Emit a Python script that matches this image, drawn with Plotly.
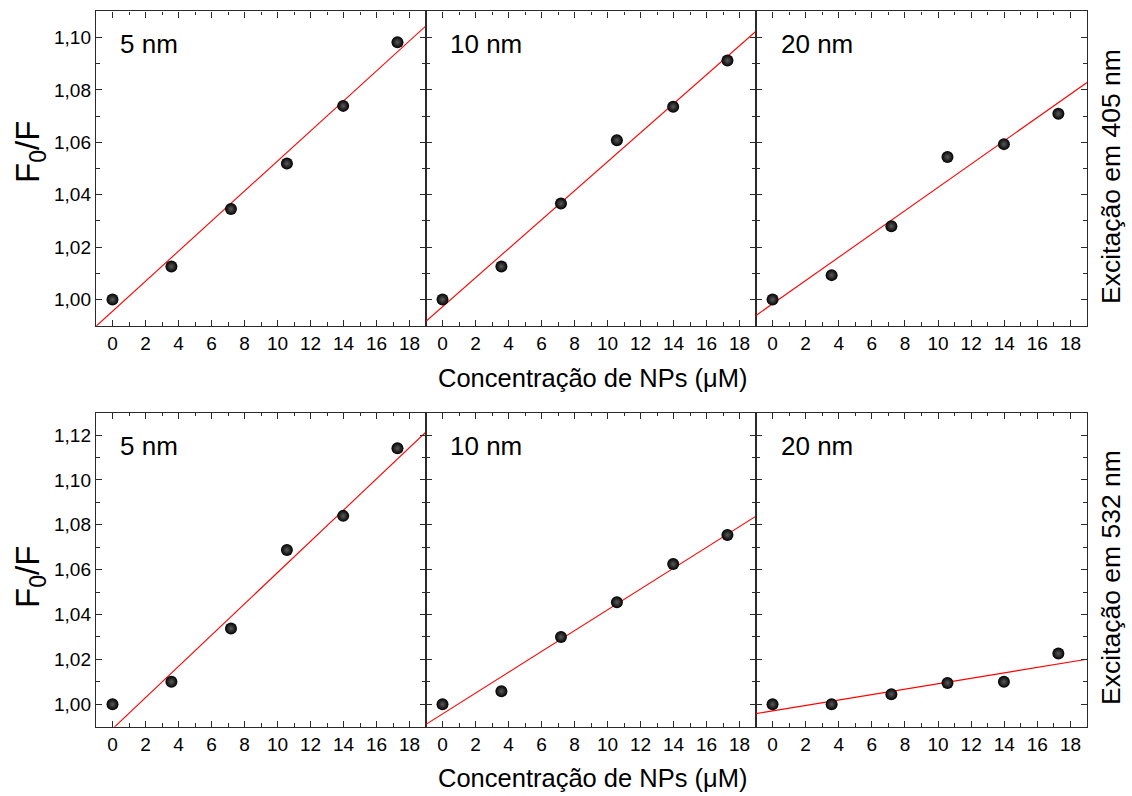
import plotly.graph_objects as go

# ---- data ----
conc = [0, 3.57, 7.18, 10.57, 13.98, 17.27]   # Concentração de NPs (µM)
sizes = ["5 nm", "10 nm", "20 nm"]

# Excitação em 405 nm
y405_5 = [1.000, 1.0126, 1.0345, 1.0519, 1.0739, 1.0982]
y405_10 = [1.000, 1.0126, 1.0366, 1.0608, 1.0736, 1.0912]
y405_20 = [1.000, 1.0093, 1.0280, 1.0544, 1.0593, 1.0709]

# Excitação em 532 nm
y532_5 = [1.000, 1.0100, 1.0338, 1.0688, 1.0840, 1.1141]
y532_10 = [1.000, 1.0058, 1.0300, 1.0455, 1.0625, 1.0755]
y532_20 = [1.000, 1.0000, 1.0045, 1.0095, 1.0100, 1.0226]

# linear fits (slope, intercept)
fit405_slope = [0.005735, 0.005535, 0.004446]
fit405_icpt = [0.99550, 0.99724, 0.99834]
fit532_slope = [0.006968, 0.004641, 0.0012115]
fit532_icpt = [0.98902, 0.99572, 0.99705]

fit_x = [-1, 19]
x_range = [-1, 19]
y405_range = [0.99, 1.11]
y532_range = [0.99, 1.13]
x_title = "Concentração de NPs (μM)"
y_title = "F<sub>0</sub>/F"
row_titles = ["Excitação em 405 nm", "Excitação em 532 nm"]

rows = [
    dict(ys=[y405_5, y405_10, y405_20], slope=fit405_slope, icpt=fit405_icpt,
         yr=y405_range, dtick=0.02),
    dict(ys=[y532_5, y532_10, y532_20], slope=fit532_slope, icpt=fit532_icpt,
         yr=y532_range, dtick=0.02),
]

W, H = 1132, 796
col_px = [(96, 426), (426, 756), (756, 1087)]
row_px = [(11.3, 325.7), (412.7, 726.7)]

FONT = "Liberation Sans, Arial, sans-serif"
AX = "#2a2a2a"

fig = go.Figure()
layout = dict(
    width=W, height=H, margin=dict(l=0, r=0, t=0, b=0),
    paper_bgcolor="white", plot_bgcolor="white", showlegend=False,
    separators=",.", font=dict(family=FONT, color="black", size=18),
)
annotations = []

k = 0
for r, row in enumerate(rows):
    y0p, y1p = row_px[r]
    for c in range(3):
        k += 1
        xa = "x" if k == 1 else f"x{k}"
        ya = "y" if k == 1 else f"y{k}"
        x0p, x1p = col_px[c]
        ys = row["ys"][c]
        m, b = row["slope"][c], row["icpt"][c]
        fig.add_trace(go.Scatter(
            x=fit_x, y=[m * v + b for v in fit_x], mode="lines",
            line=dict(color="red", width=1.1), xaxis=xa, yaxis=ya,
            hoverinfo="skip"))
        fig.add_trace(go.Scatter(
            x=conc, y=ys, mode="markers", xaxis=xa, yaxis=ya,
            marker=dict(size=12, color="black",
                        gradient=dict(type="radial", color="#5a5a5a"),
                        line=dict(width=0)),
            cliponaxis=False))
        common = dict(
            showline=True, linecolor=AX, linewidth=1.4, mirror="allticks",
            ticks="inside", ticklen=6, tickwidth=1.2, tickcolor=AX,
            showgrid=False, zeroline=False,
            tickfont=dict(family=FONT, size=19, color="black"),
        )
        layout["xaxis" if k == 1 else f"xaxis{k}"] = dict(
            common, domain=[x0p / W, x1p / W], range=x_range,
            tick0=0, dtick=2, anchor=ya,
            minor=dict(ticks="inside", ticklen=3.5, dtick=1, tick0=0,
                       tickcolor=AX, tickwidth=1.1, showgrid=False))
        layout["yaxis" if k == 1 else f"yaxis{k}"] = dict(
            common, domain=[1 - y1p / H, 1 - y0p / H], range=row["yr"],
            tick0=1.0, dtick=row["dtick"], tickformat=".2f", anchor=xa,
            showticklabels=(c == 0),
            minor=dict(ticks="inside", ticklen=3.5, dtick=0.01, tick0=1.0,
                       tickcolor=AX, tickwidth=1.1, showgrid=False))
        annotations.append(dict(
            text=sizes[c], xref=f"{xa} domain", yref=f"{ya} domain",
            x=0.068, y=0.895, xanchor="left", yanchor="middle",
            showarrow=False, font=dict(family=FONT, size=26, color="black")))

    # row-level titles
    annotations.append(dict(
        text=y_title, xref="paper", yref="paper", x=30 / W,
        y=1 - (152 if r == 0 else 577) / H, textangle=-90,
        xanchor="center", yanchor="middle", showarrow=False,
        font=dict(family=FONT, size=33, color="black")))
    annotations.append(dict(
        text=row_titles[r], xref="paper", yref="paper", x=1111 / W,
        y=1 - (177 if r == 0 else 578) / H, textangle=-90,
        xanchor="center", yanchor="middle", showarrow=False,
        font=dict(family=FONT, size=26.5, color="black")))
    annotations.append(dict(
        text=x_title, xref="paper", yref="paper", x=593 / W,
        y=1 - (378 if r == 0 else 778) / H,
        xanchor="center", yanchor="middle", showarrow=False,
        font=dict(family=FONT, size=25.5, color="black")))

layout["annotations"] = annotations
fig.update_layout(**layout)
fig.write_html("out.html")
